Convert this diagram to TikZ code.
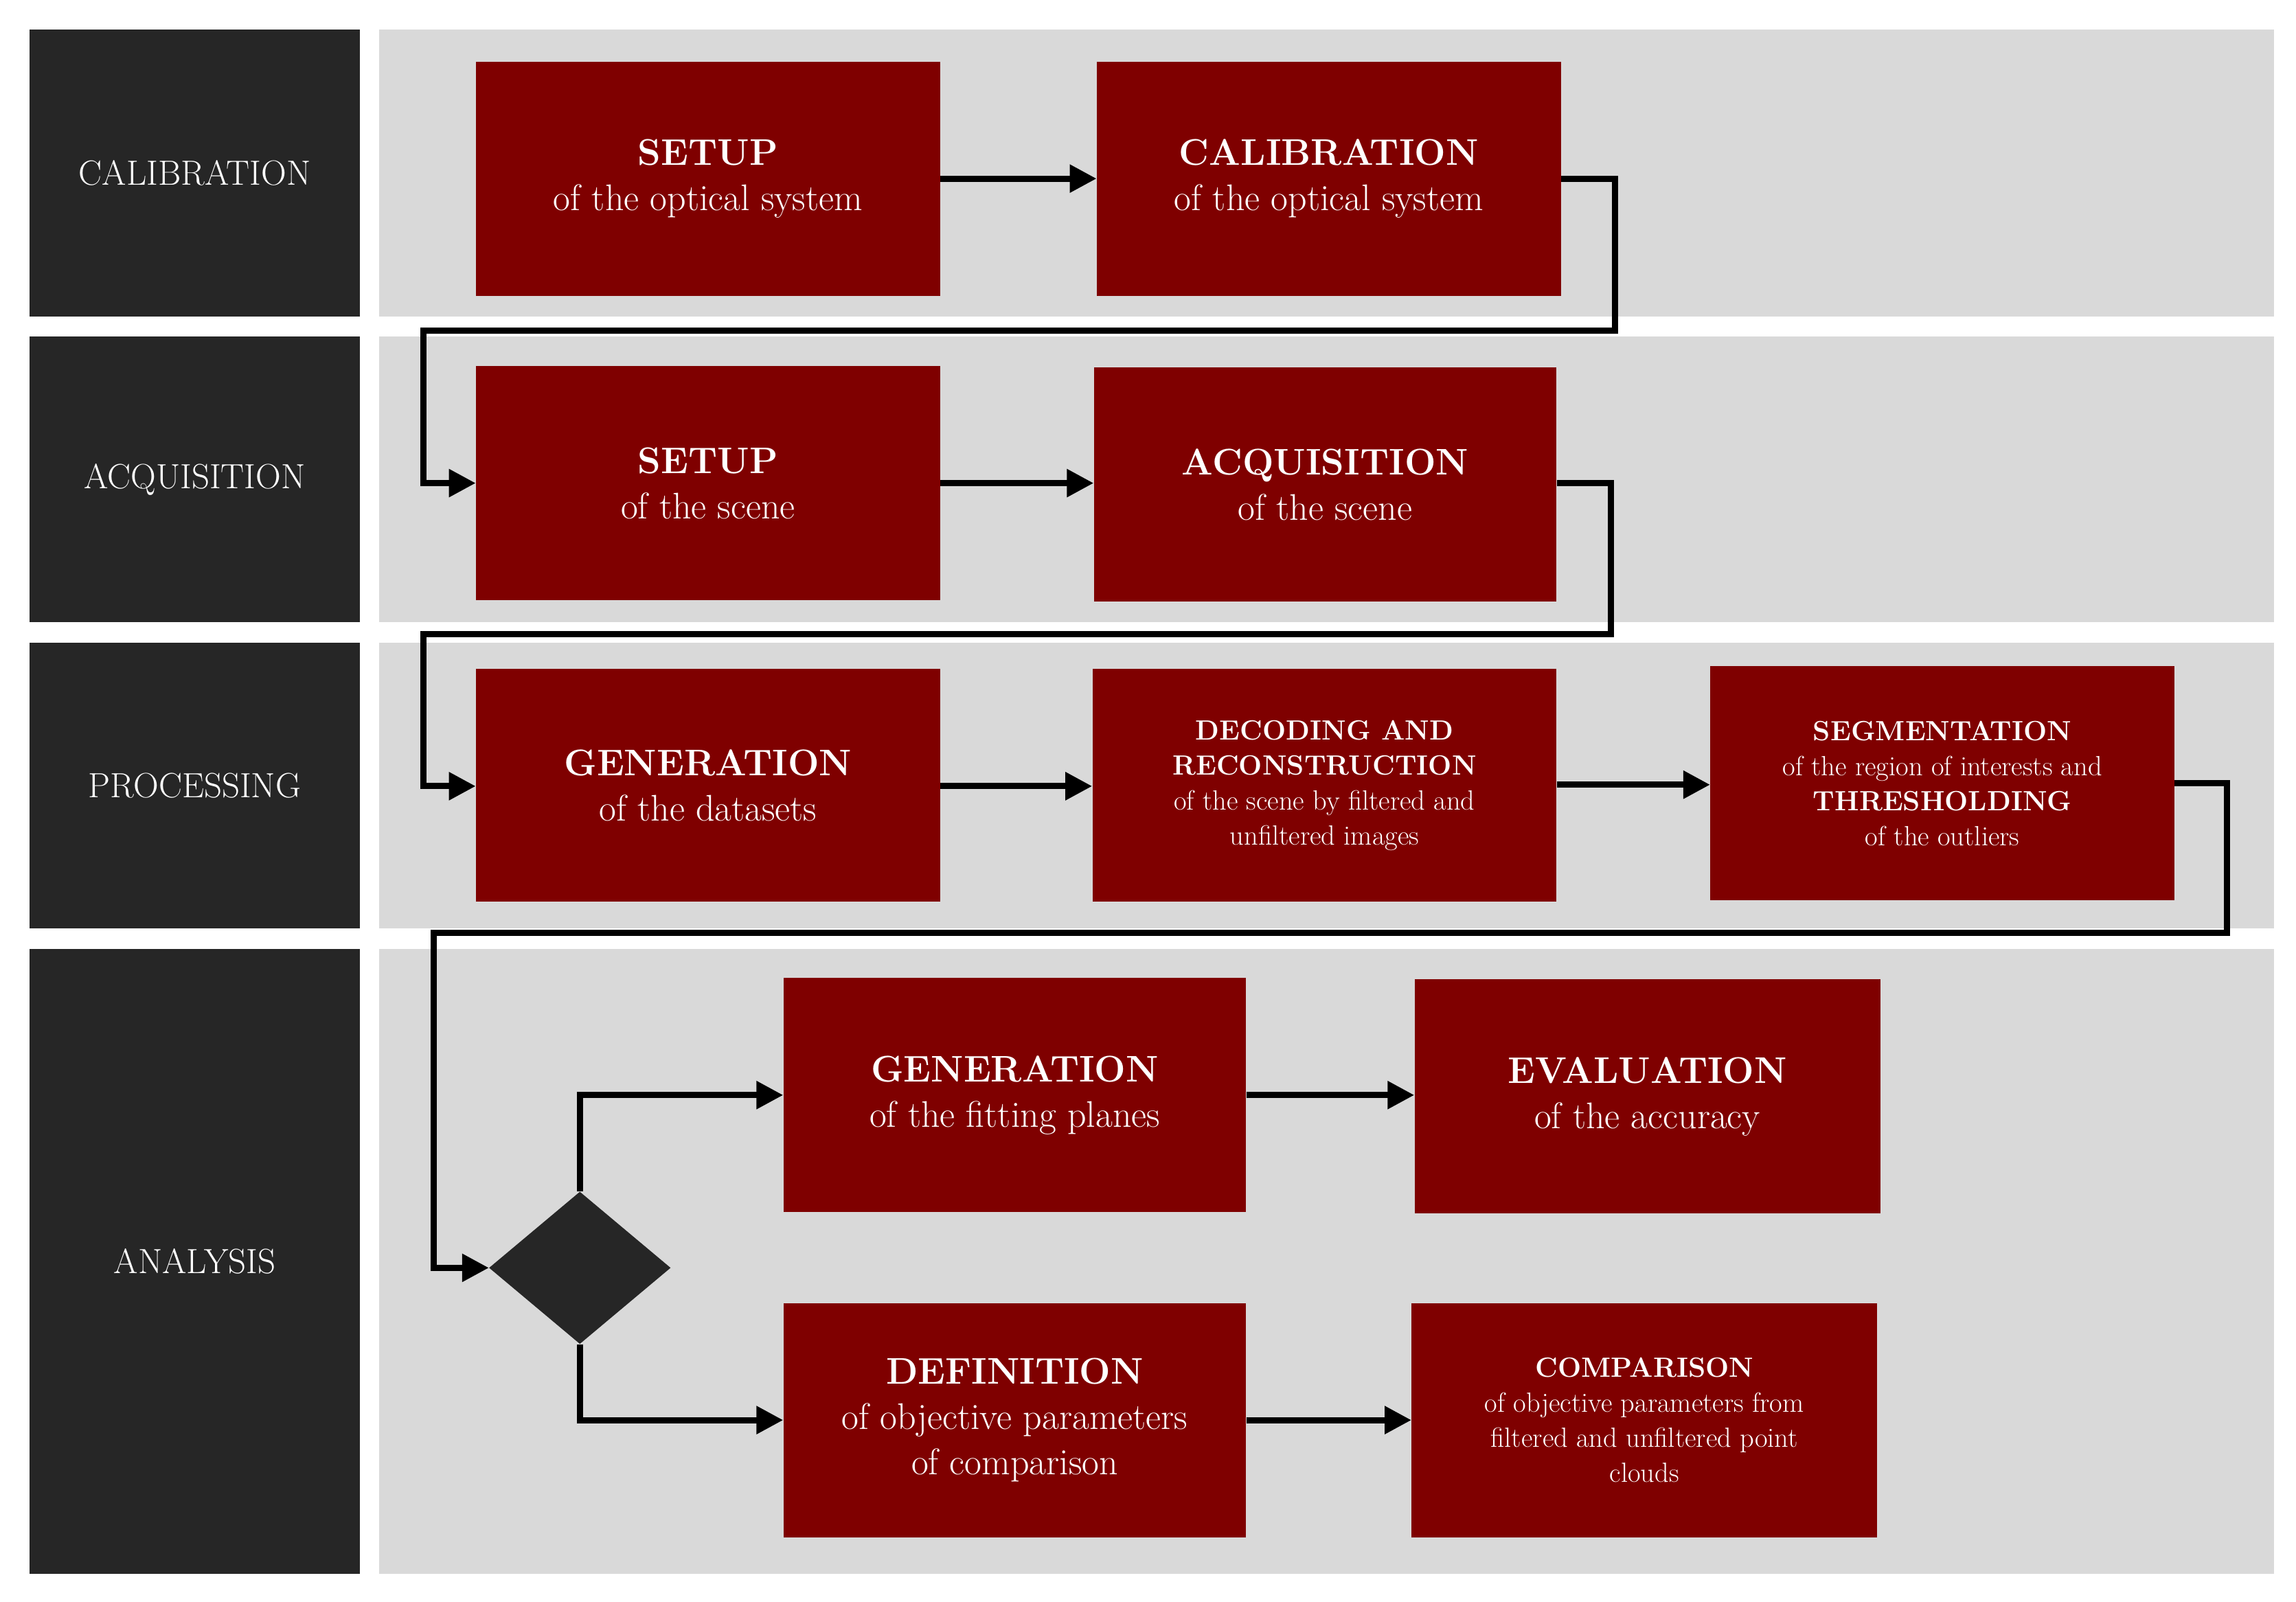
\documentclass[tikz,border=0pt]{standalone}
\usetikzlibrary{arrows.meta,shapes.geometric}
\definecolor{side}{HTML}{262626}
\definecolor{band}{HTML}{D9D9D9}
\definecolor{red}{HTML}{7F0000}
\begin{document}
\begin{tikzpicture}[x=0.05cm,y=-0.05cm,
  side/.style={fill=side,draw=none},
  band/.style={fill=band,draw=none},
  lab/.style={text=white,font=\fontsize{34}{40}\selectfont},
  box/.style={fill=red,draw=none,text=white,align=center,font=\fontsize{36}{44}\selectfont},
  sbox/.style={fill=red,draw=none,text=white,align=center,font=\fontsize{27}{34}\selectfont},
  con/.style={line width=6pt,-{Triangle[length=26pt,width=26pt]}}]
\useasboundingbox (0,0) rectangle (1568,1094);
\foreach \a/\b/\n in {20/216/CALIBRATION,230/425/ACQUISITION,439/634/PROCESSING,648/1075/ANALYSIS}{
  \fill[side] (20,\a) rectangle (246,\b);
  \fill[band] (259,\a) rectangle (1553,\b);
  \node[lab] at (133,{(\a+\b)/2}) {\n};
}
\newcommand\bx[6]{\node[#6,minimum width={(#3-#2)*0.05cm},minimum height={(#5-#4)*0.05cm},inner sep=0pt] (#1) at ({(#2+#3)/2},{(#4+#5)/2})}
\bx{A}{325}{642}{42}{202}{box}{\textbf{SETUP}\\of the optical system};
\bx{B}{749}{1066}{42}{202}{box}{\textbf{CALIBRATION}\\of the optical system};
\bx{C}{325}{642}{250}{410}{box}{\textbf{SETUP}\\of the scene};
\bx{D}{747}{1063}{251}{411}{box}{\textbf{ACQUISITION}\\of the scene};
\bx{E}{325}{642}{457}{616}{box}{\textbf{GENERATION}\\of the datasets};
\bx{F}{746}{1063}{457}{616}{sbox}{\textbf{DECODING AND}\\\textbf{RECONSTRUCTION}\\of the scene by filtered and\\unfiltered images};
\bx{G}{1168}{1485}{455}{615}{sbox}{\textbf{SEGMENTATION}\\of the region of interests and\\\textbf{THRESHOLDING}\\of the outliers};
\bx{H}{535}{851}{668}{828}{box}{\textbf{GENERATION}\\of the fitting planes};
\bx{I}{966}{1284}{669}{829}{box}{\textbf{EVALUATION}\\of the accuracy};
\bx{J}{535}{851}{890}{1050}{box}{\textbf{DEFINITION}\\of objective parameters\\of comparison};
\bx{K}{964}{1282}{890}{1050}{sbox}{\textbf{COMPARISON}\\of objective parameters from\\filtered and unfiltered point\\clouds};
\node[diamond,fill=side,minimum width=124*0.05cm,minimum height=104*0.05cm,inner sep=0pt,aspect=1.2] (Q) at (396,866) {};
\draw[con] (A.east|-0,122) -- (B.west|-0,122);
\draw[con] (B.east|-0,122) -- (1103,122) -- (1103,226) -- (289,226) -- (289,330) -- (C.west|-0,330);
\draw[con] (C.east|-0,330) -- (D.west|-0,330);
\draw[con] (D.east|-0,330) -- (1100,330) -- (1100,433) -- (289,433) -- (289,537) -- (E.west|-0,537);
\draw[con] (E.east|-0,537) -- (F.west|-0,537);
\draw[con] (F.east|-0,536) -- (G.west|-0,536);
\draw[con] (G.east|-0,535) -- (1521,535) -- (1521,637) -- (296,637) -- (296,866) -- (Q.west);
\draw[con] (Q.north) -- (396,748) -- (H.west|-0,748);
\draw[con] (Q.south) -- (396,970) -- (J.west|-0,970);
\draw[con] (H.east|-0,748) -- (I.west|-0,748);
\draw[con] (J.east|-0,970) -- (K.west|-0,970);
\end{tikzpicture}
\end{document}
